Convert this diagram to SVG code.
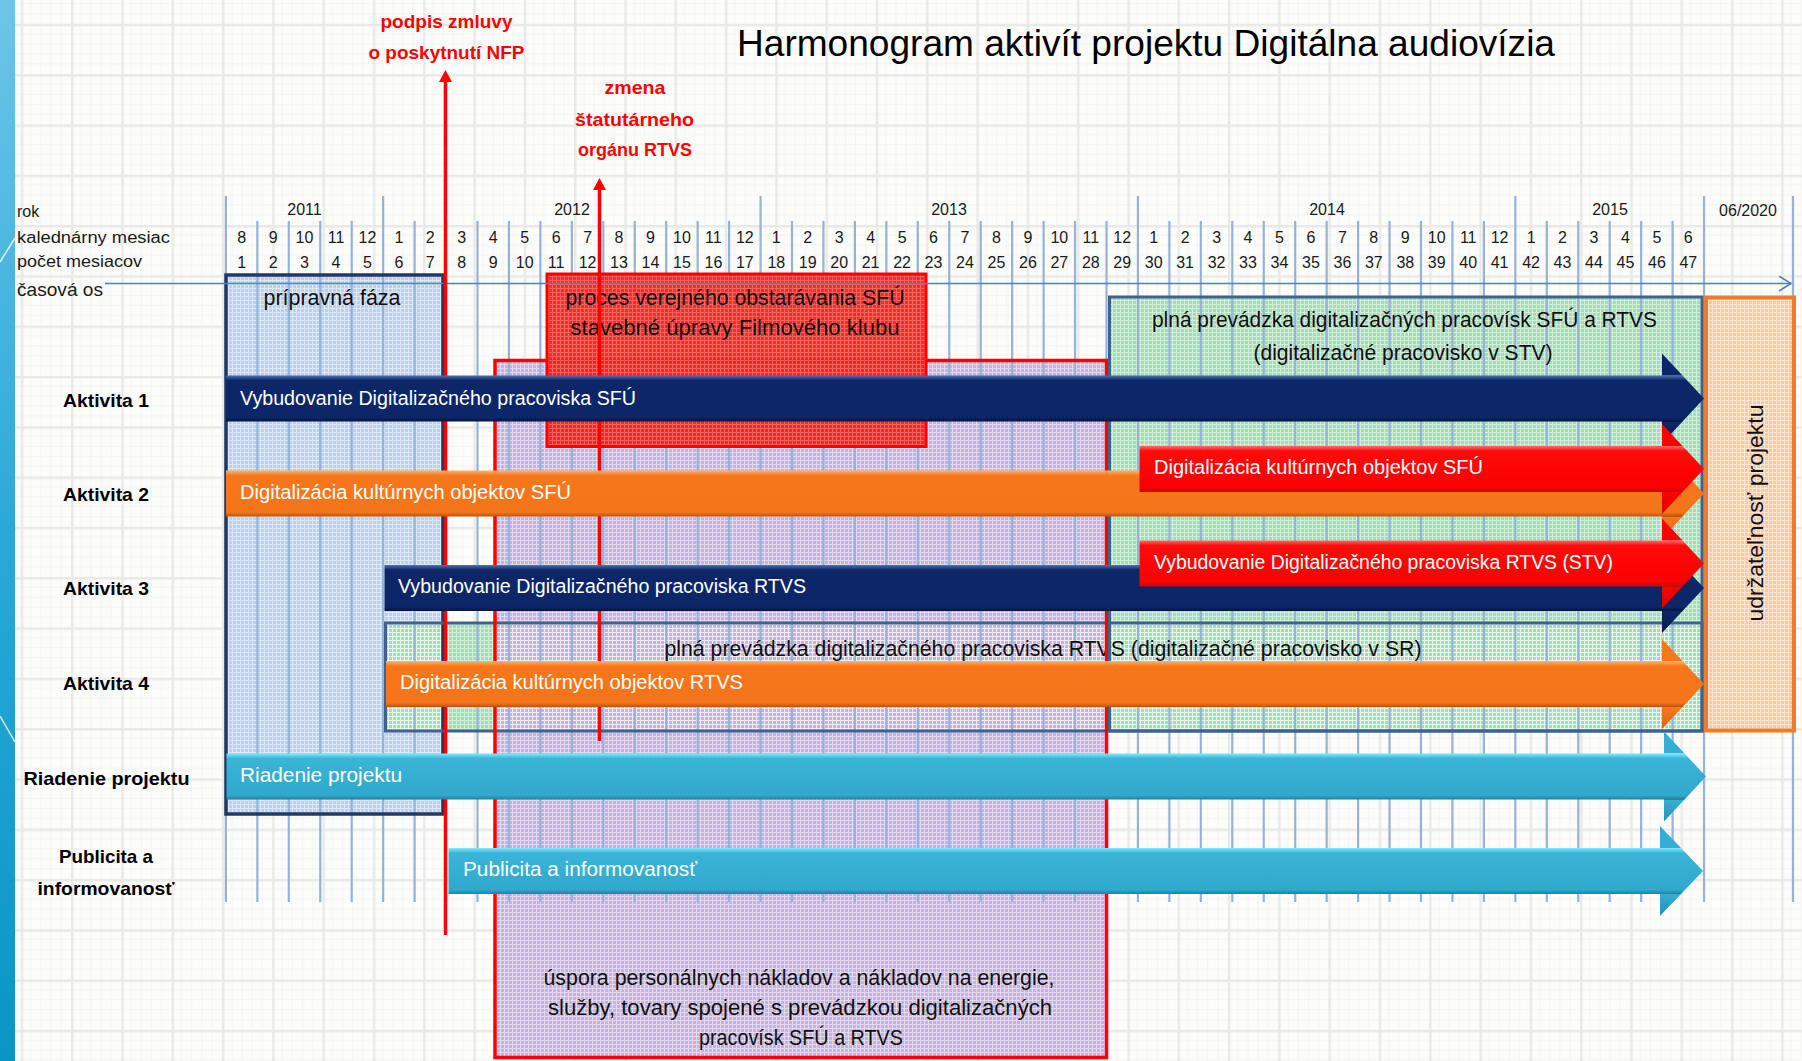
<svg xmlns="http://www.w3.org/2000/svg" width="1802" height="1061" viewBox="0 0 1802 1061">
<style>
text{font-family:"Liberation Sans",Arial,sans-serif;}
.hdr{font-size:16px;fill:#1a1a1a;}
.hdr-big{font-size:19px;fill:#1a1a1a;}
.num{font-size:16px;fill:#1a1a1a;text-anchor:middle;}
.row{font-size:19px;font-weight:bold;fill:#000;text-anchor:middle;}
.box{font-size:22px;fill:#111;text-anchor:middle;}
.bar{font-size:20px;fill:#fff;}
.red{font-size:19px;font-weight:bold;fill:#ff0000;text-anchor:middle;}
.grid{stroke:#95b3d7;stroke-width:2.2;fill:none;}
.tex{fill:url(#tex);}
</style>
<defs>
<pattern id="bg" width="50.3" height="50.3" patternUnits="userSpaceOnUse" x="20.7" y="23.8">
<rect width="50.3" height="50.3" fill="#fcfcfa"/>
<path d="M10.06 0V50.3M20.12 0V50.3M30.18 0V50.3M40.24 0V50.3M0 10.06H50.3M0 20.12H50.3M0 30.18H50.3M0 40.24H50.3" stroke="#f5f5f3" stroke-width="1"/>
<path d="M1.2 0V50.3M0 1.2H50.3" stroke="#e9e9e7" stroke-width="2.4"/>
</pattern>
<pattern id="tex" width="4" height="4" patternUnits="userSpaceOnUse">
<path d="M0 0.5H4M0.5 0V4" stroke="#ffffff" stroke-width="1" opacity="0.5"/>
</pattern>
<pattern id="texr" width="4" height="4" patternUnits="userSpaceOnUse">
<path d="M0 0.5H4M0.5 0V4" stroke="#ffffff" stroke-width="1" opacity="0.25"/>
</pattern>
<linearGradient id="stripe" x1="0" y1="0" x2="0" y2="1">
<stop offset="0" stop-color="#6cc6e8"/>
<stop offset="0.5" stop-color="#2aa9d6"/>
<stop offset="1" stop-color="#0896c4"/>
</linearGradient>
<linearGradient id="gNavy" x1="0" y1="0" x2="0" y2="1">
<stop offset="0" stop-color="#0c2668"/>
<stop offset="0.24" stop-color="#0c2668"/>
<stop offset="0.245" stop-color="#5070b0"/>
<stop offset="0.30" stop-color="#0c2668"/>
<stop offset="0.71" stop-color="#0c2668"/>
<stop offset="0.755" stop-color="#051540"/>
<stop offset="0.76" stop-color="#0c2668"/>
<stop offset="1" stop-color="#081c50"/>
</linearGradient>
<linearGradient id="gOrange" x1="0" y1="0" x2="0" y2="1">
<stop offset="0" stop-color="#f7781c"/>
<stop offset="0.24" stop-color="#f7781c"/>
<stop offset="0.245" stop-color="#ffb46c"/>
<stop offset="0.30" stop-color="#f7781c"/>
<stop offset="0.71" stop-color="#f47519"/>
<stop offset="0.755" stop-color="#b85412"/>
<stop offset="0.76" stop-color="#f7781c"/>
<stop offset="1" stop-color="#d8651a"/>
</linearGradient>
<linearGradient id="gRed" x1="0" y1="0" x2="0" y2="1">
<stop offset="0" stop-color="#ff0000"/>
<stop offset="0.24" stop-color="#ff0000"/>
<stop offset="0.245" stop-color="#ff6a6a"/>
<stop offset="0.30" stop-color="#ff0a0a"/>
<stop offset="0.71" stop-color="#fa0000"/>
<stop offset="0.755" stop-color="#b81010"/>
<stop offset="0.76" stop-color="#ff0000"/>
<stop offset="1" stop-color="#d80000"/>
</linearGradient>
<linearGradient id="gTeal" x1="0" y1="0" x2="0" y2="1">
<stop offset="0" stop-color="#35aed4"/>
<stop offset="0.24" stop-color="#35aed4"/>
<stop offset="0.245" stop-color="#80e8fc"/>
<stop offset="0.30" stop-color="#3ab4d8"/>
<stop offset="0.71" stop-color="#31a8cc"/>
<stop offset="0.755" stop-color="#22809e"/>
<stop offset="0.76" stop-color="#35aed4"/>
<stop offset="1" stop-color="#2690b2"/>
</linearGradient>
<marker id="redHead" markerUnits="userSpaceOnUse" markerWidth="14" markerHeight="14" refX="0" refY="6.5" orient="auto" viewBox="0 0 14 13">
<path d="M0 0L12 6.5L0 13Z" fill="#ff0000"/>
</marker>
<marker id="chev" markerUnits="userSpaceOnUse" markerWidth="16" markerHeight="18" refX="13" refY="8" orient="auto" viewBox="0 0 16 18">
<path d="M1 0.5L13 8L1 15.5" fill="none" stroke="#4f81bd" stroke-width="1.6"/>
</marker>
</defs>

<g id="background">
<rect width="1802" height="1061" fill="url(#bg)"/>
<rect x="0" y="0" width="15" height="1061" fill="url(#stripe)"/>
<path d="M0 262L15 238M0 716L15 742" stroke="#ffffff" stroke-width="1.5" opacity="0.8"/>
</g>

<g id="title">
<text x="737" y="56" font-size="37" fill="#000" textLength="818" lengthAdjust="spacingAndGlyphs">Harmonogram aktivít projektu Digitálna audiovízia</text>
</g>

<g id="header">
<text class="hdr" x="17" y="216.5">rok</text>
<text class="hdr" x="17" y="242.5" textLength="153" lengthAdjust="spacingAndGlyphs">kalednárny mesiac</text>
<text class="hdr" x="17" y="267" textLength="125" lengthAdjust="spacingAndGlyphs">počet mesiacov</text>
<text class="hdr-big" x="17" y="296" textLength="86" lengthAdjust="spacingAndGlyphs">časová os</text>
<text class="num" y="215"><tspan x="304.5">2011</tspan><tspan x="572">2012</tspan><tspan x="949">2013</tspan><tspan x="1327">2014</tspan><tspan x="1610">2015</tspan><tspan x="1748" y="216">06/2020</tspan></text>
<text class="num" y="242.5"><tspan x="241.6">8</tspan><tspan x="273.1">9</tspan><tspan x="304.5">10</tspan><tspan x="336">11</tspan><tspan x="367.4">12</tspan><tspan x="398.9">1</tspan><tspan x="430.3">2</tspan><tspan x="461.8">3</tspan><tspan x="493.2">4</tspan><tspan x="524.7">5</tspan><tspan x="556.1">6</tspan><tspan x="587.6">7</tspan><tspan x="619">8</tspan><tspan x="650.5">9</tspan><tspan x="681.9">10</tspan><tspan x="713.4">11</tspan><tspan x="744.8">12</tspan><tspan x="776.3">1</tspan><tspan x="807.7">2</tspan><tspan x="839.2">3</tspan><tspan x="870.6">4</tspan><tspan x="902.1">5</tspan><tspan x="933.5">6</tspan><tspan x="965">7</tspan><tspan x="996.4">8</tspan><tspan x="1027.9">9</tspan><tspan x="1059.3">10</tspan><tspan x="1090.8">11</tspan><tspan x="1122.2">12</tspan><tspan x="1153.7">1</tspan><tspan x="1185.1">2</tspan><tspan x="1216.6">3</tspan><tspan x="1248">4</tspan><tspan x="1279.5">5</tspan><tspan x="1310.9">6</tspan><tspan x="1342.4">7</tspan><tspan x="1373.8">8</tspan><tspan x="1405.3">9</tspan><tspan x="1436.7">10</tspan><tspan x="1468.2">11</tspan><tspan x="1499.6">12</tspan><tspan x="1531.1">1</tspan><tspan x="1562.5">2</tspan><tspan x="1594">3</tspan><tspan x="1625.4">4</tspan><tspan x="1656.9">5</tspan><tspan x="1688.3">6</tspan></text>
<text class="num" y="267.5"><tspan x="241.6">1</tspan><tspan x="273.1">2</tspan><tspan x="304.5">3</tspan><tspan x="336">4</tspan><tspan x="367.4">5</tspan><tspan x="398.9">6</tspan><tspan x="430.3">7</tspan><tspan x="461.8">8</tspan><tspan x="493.2">9</tspan><tspan x="524.7">10</tspan><tspan x="556.1">11</tspan><tspan x="587.6">12</tspan><tspan x="619">13</tspan><tspan x="650.5">14</tspan><tspan x="681.9">15</tspan><tspan x="713.4">16</tspan><tspan x="744.8">17</tspan><tspan x="776.3">18</tspan><tspan x="807.7">19</tspan><tspan x="839.2">20</tspan><tspan x="870.6">21</tspan><tspan x="902.1">22</tspan><tspan x="933.5">23</tspan><tspan x="965">24</tspan><tspan x="996.4">25</tspan><tspan x="1027.9">26</tspan><tspan x="1059.3">27</tspan><tspan x="1090.8">28</tspan><tspan x="1122.2">29</tspan><tspan x="1153.7">30</tspan><tspan x="1185.1">31</tspan><tspan x="1216.6">32</tspan><tspan x="1248">33</tspan><tspan x="1279.5">34</tspan><tspan x="1310.9">35</tspan><tspan x="1342.4">36</tspan><tspan x="1373.8">37</tspan><tspan x="1405.3">38</tspan><tspan x="1436.7">39</tspan><tspan x="1468.2">40</tspan><tspan x="1499.6">41</tspan><tspan x="1531.1">42</tspan><tspan x="1562.5">43</tspan><tspan x="1594">44</tspan><tspan x="1625.4">45</tspan><tspan x="1656.9">46</tspan><tspan x="1688.3">47</tspan></text>
</g>

<g id="box-fills">
<rect x="226" y="275" width="217" height="539" fill="#bccfec"/>
<rect x="1109" y="297" width="593" height="434" fill="#a4dcb6"/>
<rect x="385.5" y="623" width="1316.5" height="108" fill="#a4dcb6"/>
<rect x="495" y="360.5" width="611.5" height="697" fill="#c4b3df"/>
<rect x="1706" y="297.5" width="88" height="433" fill="#fcc9a4"/>
<rect class="tex" x="226" y="275" width="217" height="539"/>
<rect class="tex" x="1109" y="297" width="593" height="434"/>
<rect class="tex" x="385.5" y="623" width="1316.5" height="108"/>
<rect class="tex" x="495" y="360.5" width="611.5" height="697"/>
<rect class="tex" x="1706" y="297.5" width="88" height="433"/>
</g>

<g id="grid-lines">
<path class="grid" d="M225.9 196V902M383.15 196V902M760.55 196V902M1137.95 196V902M1515.35 196V902M1704.05 196V902M1793 196V902M257.35 221V902M288.8 221V902M320.25 221V902M351.7 221V902M414.6 221V902M446.05 221V902M477.5 221V902M508.95 221V902M540.4 221V902M571.85 221V902M603.3 221V902M634.75 221V902M666.2 221V902M697.65 221V902M729.1 221V902M792 221V902M823.45 221V902M854.9 221V902M886.35 221V902M917.8 221V902M949.25 221V902M980.7 221V902M1012.15 221V902M1043.6 221V902M1075.05 221V902M1106.5 221V902M1169.4 221V902M1200.85 221V902M1232.3 221V902M1263.75 221V902M1295.2 221V902M1326.65 221V902M1358.1 221V902M1389.55 221V902M1421 221V902M1452.45 221V902M1483.9 221V902M1546.8 221V902M1578.25 221V902M1609.7 221V902M1641.15 221V902M1672.6 221V902"/>
</g>

<g id="pripravna-faza">
<rect x="226" y="275" width="217" height="539" fill="none" stroke="#1f3864" stroke-width="3.5"/>
<text class="box" x="332" y="305" textLength="137" lengthAdjust="spacingAndGlyphs">prípravná fáza</text>
</g>

<g id="prevadzka-rtvs">
<rect x="385.5" y="623" width="1316.5" height="108" fill="none" stroke="#41628f" stroke-width="3"/>
<text class="box" x="1043" y="656" textLength="757" lengthAdjust="spacingAndGlyphs">plná prevádzka digitalizačného pracoviska RTVS (digitalizačné pracovisko v SR)</text>
</g>

<g id="uspora">
<rect x="495" y="360.5" width="611.5" height="697" fill="none" stroke="#ff0000" stroke-width="3.5"/>
<text class="box" x="799" y="985" textLength="511" lengthAdjust="spacingAndGlyphs">úspora personálnych nákladov a nákladov na energie,</text>
<text class="box" x="800" y="1015" textLength="504" lengthAdjust="spacingAndGlyphs">služby, tovary spojené s prevádzkou digitalizačných</text>
<text class="box" x="801" y="1045" textLength="204" lengthAdjust="spacingAndGlyphs">pracovísk SFÚ a RTVS</text>
</g>

<g id="prevadzka-sfu-rtvs">
<rect x="1109.5" y="297" width="592.5" height="434" fill="none" stroke="#41628f" stroke-width="3"/>
<text class="box" x="1404.5" y="326.5" textLength="505" lengthAdjust="spacingAndGlyphs">plná prevádzka digitalizačných pracovísk SFÚ a RTVS</text>
<text class="box" x="1403" y="360" textLength="299" lengthAdjust="spacingAndGlyphs">(digitalizačné pracovisko v STV)</text>
</g>

<g id="verejne-obstaravanie">
<rect x="547" y="274" width="379" height="172.5" fill="#ff1a1a" fill-opacity="0.93"/>
<rect x="547" y="274" width="379" height="172.5" fill="url(#texr)"/>
<rect x="547" y="274" width="379" height="172.5" fill="none" stroke="#ff0000" stroke-width="3"/>
<text class="box" x="735" y="305" textLength="339" lengthAdjust="spacingAndGlyphs">proces verejného obstarávania SFÚ</text>
<text class="box" x="735" y="335" textLength="329" lengthAdjust="spacingAndGlyphs">stavebné úpravy Filmového klubu</text>
</g>

<g id="udrzatelnost">
<rect x="1706" y="297.5" width="88" height="433" fill="none" stroke="#f07b2a" stroke-width="4"/>
<text class="box" transform="translate(1763 513) rotate(-90)" x="0" y="0" textLength="217" lengthAdjust="spacingAndGlyphs">udržateľnosť projektu</text>
</g>

<g id="connectors">
<line x1="105" y1="283.5" x2="1791" y2="283.5" stroke="#4f81bd" stroke-width="1.6" marker-end="url(#chev)"/>
<line x1="445.5" y1="935" x2="445.5" y2="82" stroke="#ff0000" stroke-width="3.5" marker-end="url(#redHead)"/>
<line x1="599.5" y1="741" x2="599.5" y2="190" stroke="#ff0000" stroke-width="3.5" marker-end="url(#redHead)"/>
</g>

<g id="milestone-labels">
<text class="red" x="446.5" y="28" textLength="132" lengthAdjust="spacingAndGlyphs">podpis zmluvy</text>
<text class="red" x="446.5" y="58.5" textLength="156" lengthAdjust="spacingAndGlyphs">o poskytnutí NFP</text>
<text class="red" x="635" y="93.5" textLength="61" lengthAdjust="spacingAndGlyphs">zmena</text>
<text class="red" x="634.5" y="126" textLength="119" lengthAdjust="spacingAndGlyphs">štatutárneho</text>
<text class="red" x="635" y="156" textLength="114" lengthAdjust="spacingAndGlyphs">orgánu RTVS</text>
</g>

<g id="aktivita1-bar">
<polygon points="226,375.5 1662,375.5 1662,353.5 1704,398.5 1662,443.5 1662,421.5 226,421.5" fill="url(#gNavy)"/>
<text class="bar" x="240" y="405" textLength="396" lengthAdjust="spacingAndGlyphs">Vybudovanie Digitalizačného pracoviska SFÚ</text>
</g>
<g id="aktivita2-bar">
<polygon points="226,470.5 1662,470.5 1662,448.5 1704,493.5 1662,538.5 1662,516.5 226,516.5" fill="url(#gOrange)"/>
<text class="bar" x="240" y="498.5" textLength="331" lengthAdjust="spacingAndGlyphs">Digitalizácia kultúrnych objektov SFÚ</text>
</g>
<g id="aktivita2-sfu-bar">
<polygon points="1139.5,446 1662,446 1662,424 1704,469 1662,514 1662,492 1139.5,492" fill="url(#gRed)"/>
<text class="bar" x="1154" y="474" textLength="329" lengthAdjust="spacingAndGlyphs">Digitalizácia kultúrnych objektov SFÚ</text>
</g>
<g id="aktivita3-bar">
<polygon points="384.5,565 1662,565 1662,543 1704,588 1662,633 1662,611 384.5,611" fill="url(#gNavy)"/>
<text class="bar" x="398" y="593" textLength="408" lengthAdjust="spacingAndGlyphs">Vybudovanie Digitalizačného pracoviska RTVS</text>
</g>
<g id="aktivita3-stv-bar">
<polygon points="1139.5,540.5 1662,540.5 1662,518.5 1704,563.5 1662,608.5 1662,586.5 1139.5,586.5" fill="url(#gRed)"/>
<text class="bar" x="1154" y="569" textLength="459" lengthAdjust="spacingAndGlyphs">Vybudovanie Digitalizačného pracoviska RTVS (STV)</text>
</g>
<g id="aktivita4-bar">
<polygon points="386,661 1662,661 1662,639 1704,684 1662,729 1662,707 386,707" fill="url(#gOrange)"/>
<text class="bar" x="400" y="689" textLength="343" lengthAdjust="spacingAndGlyphs">Digitalizácia kultúrnych objektov RTVS</text>
</g>
<g id="riadenie-bar">
<polygon points="226.5,753.5 1664,753.5 1664,731.5 1706,776.5 1664,821.5 1664,799.5 226.5,799.5" fill="url(#gTeal)"/>
<text class="bar" x="240" y="782" textLength="162" lengthAdjust="spacingAndGlyphs">Riadenie projektu</text>
</g>
<g id="publicita-bar">
<polygon points="448.5,848 1660,848 1660,826 1703,871 1660,916 1660,894 448.5,894" fill="url(#gTeal)"/>
<text class="bar" x="463" y="876" textLength="234" lengthAdjust="spacingAndGlyphs">Publicita a informovanosť</text>
</g>

<g id="row-labels">
<text class="row" x="106" y="406.5" textLength="86" lengthAdjust="spacingAndGlyphs">Aktivita 1</text>
<text class="row" x="106" y="501" textLength="86" lengthAdjust="spacingAndGlyphs">Aktivita 2</text>
<text class="row" x="106" y="595" textLength="86" lengthAdjust="spacingAndGlyphs">Aktivita 3</text>
<text class="row" x="106" y="690" textLength="86" lengthAdjust="spacingAndGlyphs">Aktivita 4</text>
<text class="row" x="106.5" y="785" textLength="166" lengthAdjust="spacingAndGlyphs">Riadenie projektu</text>
<text class="row" x="106" y="863" textLength="94" lengthAdjust="spacingAndGlyphs">Publicita a</text>
<text class="row" x="106" y="895" textLength="137" lengthAdjust="spacingAndGlyphs">informovanosť</text>
</g>
</svg>
